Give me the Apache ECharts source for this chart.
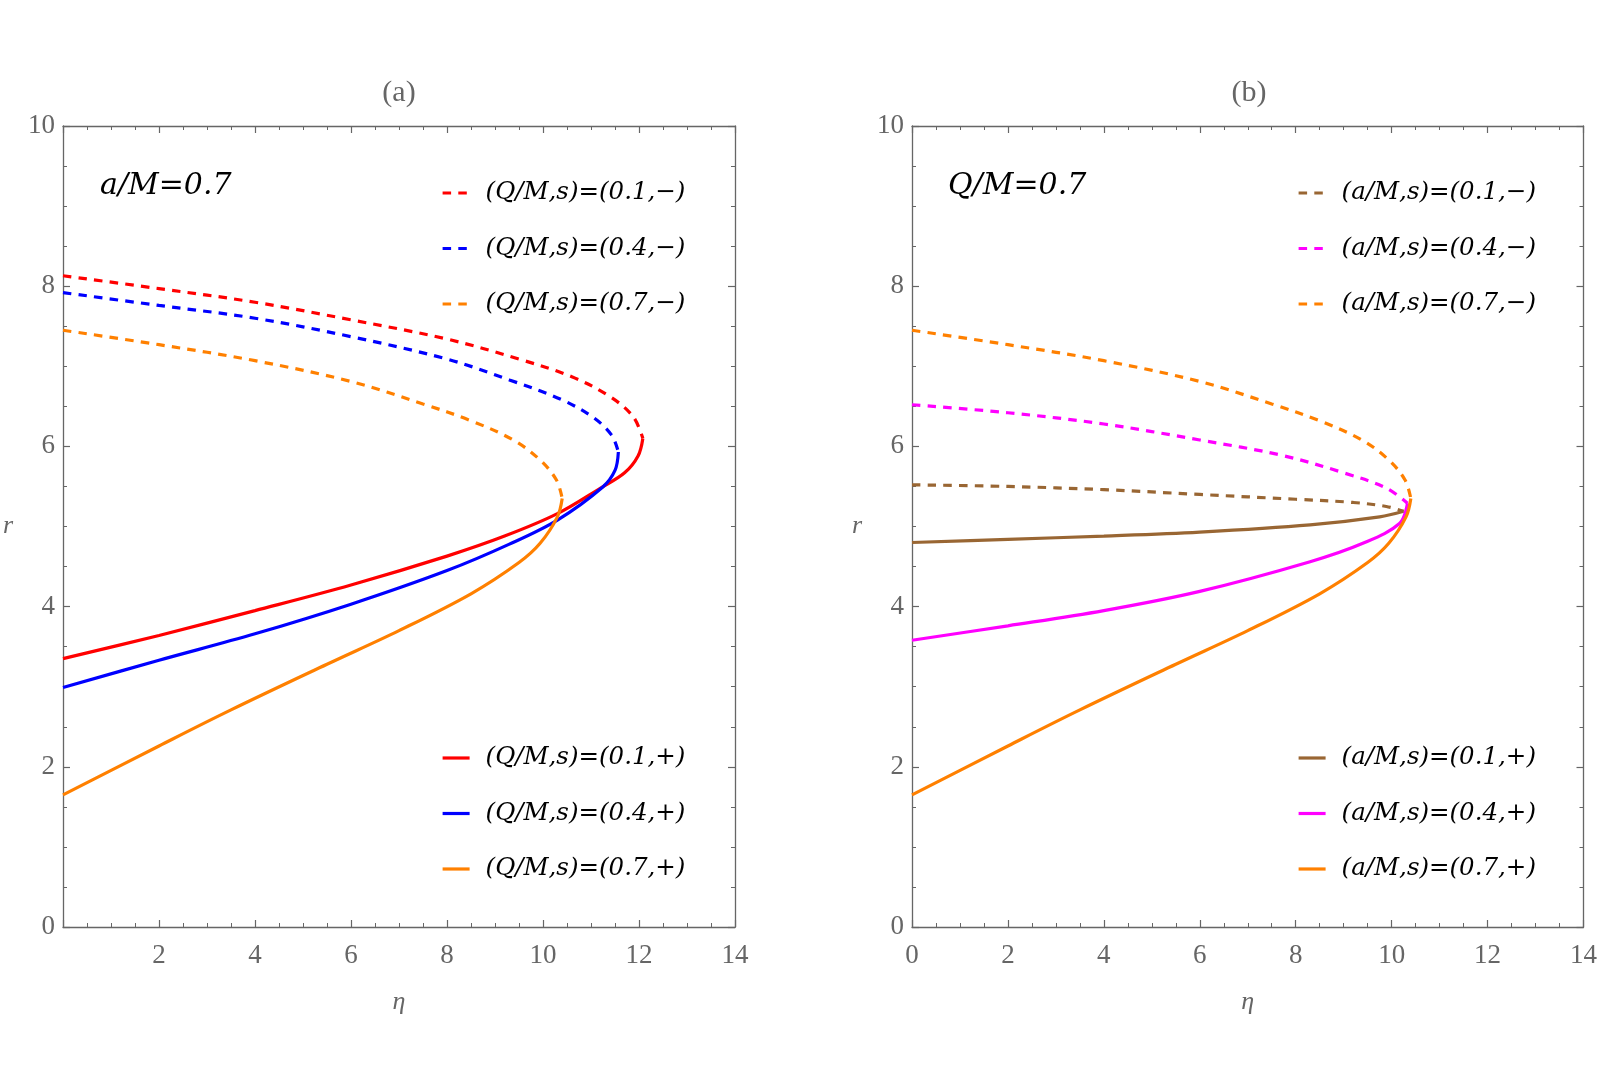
<!DOCTYPE html>
<html>
<head>
<meta charset="utf-8">
<script src="https://cdn.jsdelivr.net/npm/echarts@6/dist/echarts.min.js"></script>
<style>html,body{margin:0;padding:0;background:#fff}#c{width:1600px;height:1083px}</style>
</head>
<body>
<div id="c"></div>
<script>
// ---- data: [eta, r] pairs ----
// panel (a): a/M = 0.7
const redMinus = [[0,8.13],[2,7.97],[4,7.80],[6,7.58],[8,7.34],[9.5,7.09],[10.6,6.87],[11.4,6.62],[11.88,6.37],[12.08,6.10]];
const redPlus = [[12.08,6.10],[11.98,5.88],[11.7,5.67],[11.2,5.48],[10.3,5.16],[9.2,4.88],[8,4.63],[6,4.27],[4,3.95],[2,3.64],[0,3.35]];
const blueMinus = [[0,7.92],[2,7.76],[4,7.60],[6,7.37],[8,7.09],[9.3,6.83],[10.4,6.58],[11.05,6.36],[11.43,6.14],[11.57,5.93]];
const bluePlus = [[11.57,5.93],[11.5,5.70],[11.24,5.49],[10.3,5.08],[9.3,4.78],[8,4.45],[6,4.03],[4,3.66],[2,3.33],[0,2.99]];
const orangeMinus = [[0,7.45],[2,7.27],[4,7.07],[6,6.81],[7.5,6.53],[8.5,6.32],[9.38,6.08],[9.94,5.83],[10.28,5.58],[10.40,5.35]];
const orangePlus = [[10.40,5.35],[10.30,5.12],[9.94,4.79],[9.5,4.55],[8.5,4.16],[7,3.70],[5.5,3.28],[3.5,2.71],[2,2.26],[0,1.65]];
// panel (b): Q/M = 0.7
const brownMinus = [[0,5.52],[2,5.50],[4,5.46],[6,5.40],[8,5.34],[9.2,5.30],[9.89,5.25],[10.25,5.19]];
const brownPlus = [[10.25,5.19],[9.75,5.12],[8.3,5.02],[6,4.93],[4,4.88],[2,4.84],[0,4.80]];
const magentaMinus = [[0,6.52],[2,6.42],[4,6.28],[6,6.08],[7.7,5.89],[9.0,5.67],[9.89,5.48],[10.33,5.29]];
const magentaPlus = [[10.33,5.29],[10.17,5.04],[9.4,4.79],[8.3,4.56],[6,4.19],[4,3.95],[2,3.76],[0,3.58]];
const orangeMinusB = orangeMinus;
const orangePlusB = orangePlus;

const namesAMinus = ['(Q/M,s)=(0.1,−)','(Q/M,s)=(0.4,−)','(Q/M,s)=(0.7,−)'];
const namesAPlus  = ['(Q/M,s)=(0.1,+)','(Q/M,s)=(0.4,+)','(Q/M,s)=(0.7,+)'];
const namesBMinus = ['(a/M,s)=(0.1,−)','(a/M,s)=(0.4,−)','(a/M,s)=(0.7,−)'];
const namesBPlus  = ['(a/M,s)=(0.1,+)','(a/M,s)=(0.4,+)','(a/M,s)=(0.7,+)'];
const panelTitles = ['(a)','(b)'];
const panelNotes = ['a/M=0.7','Q/M=0.7'];

const RED='#ff0000', BLUE='#0000ff', ORANGE='#ff8000', BROWN='#996633', MAGENTA='#ff00ff';
const GRAY='#666666';
const SERIF='"Liberation Serif", "DejaVu Serif", serif';
const WIDE='"DejaVu Serif", "Liberation Serif", serif';
const DASH=[8.5,7.2];

function xAx(grid, pos, showLabel, showMin){
  return {
    gridIndex:grid, type:'value', min:0, max:14, interval:2, position:pos,
    axisLine:{show:true, onZero:false, lineStyle:{color:GRAY, width:1.3}},
    axisTick:{show:true, inside:true, length:7, lineStyle:{color:GRAY, width:1.2}},
    minorTick:{show:true, splitNumber:4, length:4, lineStyle:{color:GRAY, width:1}},
    splitLine:{show:false}, minorSplitLine:{show:false},
    axisLabel:{show:showLabel, showMinLabel:showMin, color:GRAY, fontFamily:SERIF, fontSize:27, margin:15},
    name: showLabel ? 'η' : '', nameLocation:'middle', nameGap:62,
    nameTextStyle:{color:GRAY, fontFamily:SERIF, fontStyle:'italic', fontSize:26}
  };
}
function yAx(grid, pos, showLabel){
  return {
    gridIndex:grid, type:'value', min:0, max:10, interval:2, position:pos,
    axisLine:{show:true, onZero:false, lineStyle:{color:GRAY, width:1.3}},
    axisTick:{show:true, inside:true, length:7, lineStyle:{color:GRAY, width:1.2}},
    minorTick:{show:true, splitNumber:4, length:4, lineStyle:{color:GRAY, width:1}},
    splitLine:{show:false}, minorSplitLine:{show:false},
    axisLabel:{show:showLabel, color:GRAY, fontFamily:SERIF, fontSize:27, margin:8},
    name: showLabel ? 'r' : '', nameLocation:'middle', nameGap:50, nameRotate:0,
    nameTextStyle:{color:GRAY, fontFamily:SERIF, fontStyle:'italic', fontSize:26, padding:[12,0,0,0]}
  };
}
function line(name, data, color, dashed, grid){
  return {
    name:name, type:'line', data:data, xAxisIndex:grid*2, yAxisIndex:grid*2,
    smooth:0.35, symbol:'none', showSymbol:false, silent:true, animation:false,
    lineStyle:{color:color, width:3.2, type: dashed ? DASH : 'solid'},
    itemStyle:{color:color}
  };
}
const legendText = {color:'#000', fontFamily:WIDE, fontStyle:'italic', fontSize:24.5, lineHeight:26, padding:[0,0,0,11]};
function leg(names, left, top, dashed){
  return {data:names, orient:'vertical', left:left, top:top, itemWidth:27, itemHeight:14,
    itemGap:29.5, padding:0, selectedMode:false, textStyle:legendText,
    itemStyle:{color:'rgba(0,0,0,0)', borderWidth:0, opacity:0},
    lineStyle:{width:3.2, type: dashed ? DASH : 'solid'}};
}

const chart = echarts.init(document.getElementById('c'));
chart.setOption({
  backgroundColor:'#fff',
  animation:false,
  grid:[{left:63, top:126, width:672, height:801},{left:912, top:126, width:673, height:801}],
  xAxis:[xAx(0,'bottom',true,false), xAx(0,'top',false,false), xAx(1,'bottom',true,true), xAx(1,'top',false,false)],
  yAxis:[yAx(0,'left',true), yAx(0,'right',false), yAx(1,'left',true), yAx(1,'right',false)],
  title:[
    {text:panelTitles[0], left:399, top:78, textAlign:'center', padding:0, textStyle:{color:GRAY, fontFamily:SERIF, fontWeight:'normal', fontSize:30}},
    {text:panelTitles[1], left:1249, top:78, textAlign:'center', padding:0, textStyle:{color:GRAY, fontFamily:SERIF, fontWeight:'normal', fontSize:30}},
    {text:panelNotes[0], left:100, top:171, padding:0, textStyle:{color:'#000', fontFamily:WIDE, fontStyle:'italic', fontWeight:'normal', fontSize:30}},
    {text:panelNotes[1], left:948, top:171, padding:0, textStyle:{color:'#000', fontFamily:WIDE, fontStyle:'italic', fontWeight:'normal', fontSize:30}}
  ],
  legend:[leg(namesAMinus,441,180,true), leg(namesAPlus,441,745,false), leg(namesBMinus,1297,180,true), leg(namesBPlus,1297,745,false)],
  series:[
    line(namesAMinus[0], redMinus, RED, true, 0),
    line(namesAMinus[1], blueMinus, BLUE, true, 0),
    line(namesAMinus[2], orangeMinus, ORANGE, true, 0),
    line(namesAPlus[0], redPlus, RED, false, 0),
    line(namesAPlus[1], bluePlus, BLUE, false, 0),
    line(namesAPlus[2], orangePlus, ORANGE, false, 0),
    line(namesBMinus[0], brownMinus, BROWN, true, 1),
    line(namesBMinus[1], magentaMinus, MAGENTA, true, 1),
    line(namesBMinus[2], orangeMinusB, ORANGE, true, 1),
    line(namesBPlus[0], brownPlus, BROWN, false, 1),
    line(namesBPlus[1], magentaPlus, MAGENTA, false, 1),
    line(namesBPlus[2], orangePlusB, ORANGE, false, 1)
  ]
});
</script>
</body>
</html>
